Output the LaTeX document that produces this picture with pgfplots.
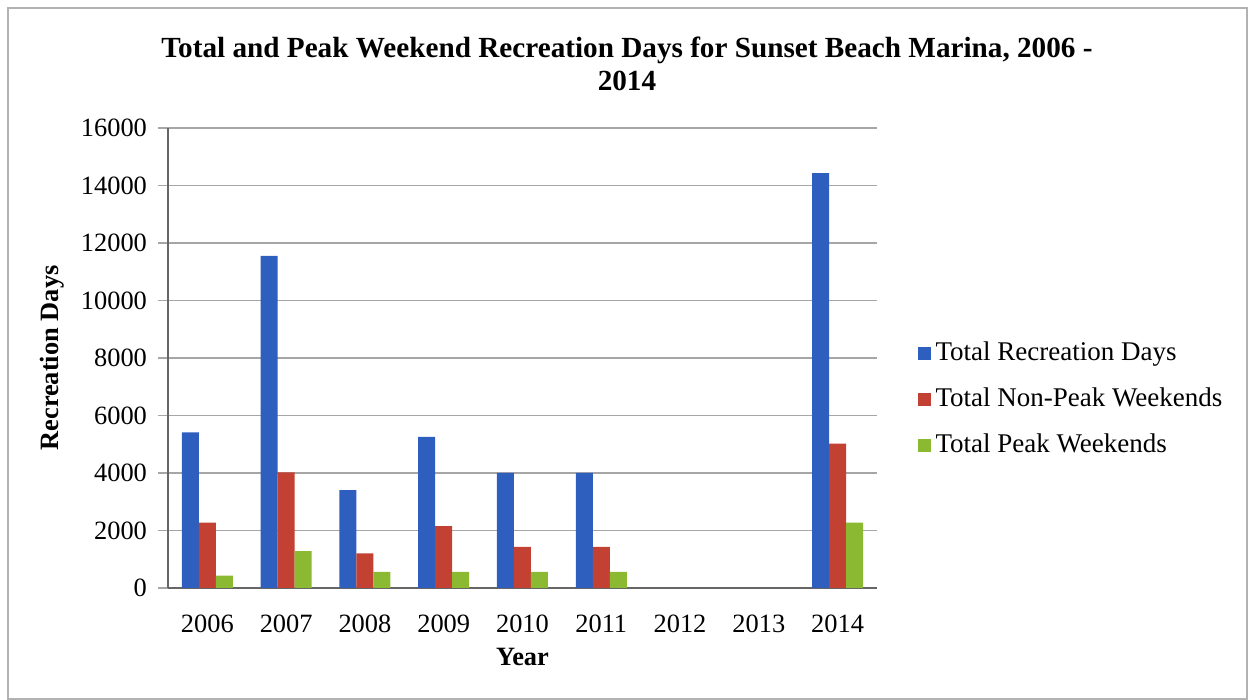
\documentclass[border=0pt]{standalone}
\usepackage{pgfplots}
\pgfplotsset{compat=1.18}
\usepackage{fontspec}
\setmainfont{Liberation Serif}

\definecolor{recBlue}{RGB}{46,94,190}
\definecolor{recRed}{RGB}{195,65,50}
\definecolor{recGreen}{RGB}{140,185,50}

\begin{document}
\begin{tikzpicture}
\useasboundingbox (0,0) rectangle (624.5pt,350pt);
\draw[gray!60, line width=1pt] (4pt,0.5pt) rectangle (623.5pt,346pt);
\node[align=center, font=\fontsize{14.6}{16.5}\selectfont\bfseries] at (313.5pt,318pt)
  {Total and Peak Weekend Recreation Days for Sunset Beach Marina, 2006 -\\2014};

\begin{axis}[
    at={(84pt,56pt)}, anchor=south west,
    scale only axis, width=354.5pt, height=230pt,
    ybar=0pt, bar width=8.5pt,
    xmin=-0.5, xmax=8.5, ymin=0, ymax=16000,
    xtick={0,...,8},
    xticklabels={2006,2007,2008,2009,2010,2011,2012,2013,2014},
    ytick={0,2000,...,16000},
    scaled y ticks=false,
    /pgf/number format/1000 sep={},
    /pgf/number format/assume math mode=true,
    ymajorgrids,
    grid style={gray!70, line width=0.7pt},
    axis x line*=bottom, axis y line*=left,
    axis line style={-, gray!80!black, line width=0.7pt},
    x tick style={draw=none},
    y tick style={gray!70, line width=0.7pt},
    tick align=outside, major tick length=5pt,
    tick label style={font=\fontsize{13.2}{15}\selectfont},
    x tick label style={yshift=-5pt},
    y tick label style={xshift=-2pt},
    xlabel={\textbf{Year}}, ylabel={\textbf{Recreation Days}},
    label style={font=\fontsize{13.2}{15}\selectfont},
    xlabel style={at={(axis description cs:0.5,-0.15)}, anchor=center},
    ylabel style={at={(axis description cs:-0.164,0.5)}, anchor=center, rotate=0},
    legend cell align=left,
    legend style={at={(1.058,0.409)}, anchor=west, draw=none, fill=none,
        inner sep=0pt, row sep=6.5pt,
        font=\fontsize{13.5}{15}\selectfont,
        nodes={text height=9.5pt, text depth=3pt, inner xsep=2pt}},
    legend image code/.code={\fill[#1] (0pt,-3.25pt) rectangle (6.5pt,3.25pt);},
]
\addplot[fill=recBlue, draw=none] coordinates {
    (0,5410) (1,11550) (2,3400) (3,5260) (4,4000) (5,4000) (8,14430)};
\addplot[fill=recRed, draw=none] coordinates {
    (0,2270) (1,4020) (2,1200) (3,2150) (4,1430) (5,1430) (8,5020)};
\addplot[fill=recGreen, draw=none] coordinates {
    (0,430) (1,1280) (2,560) (3,560) (4,560) (5,560) (8,2270)};
\legend{Total Recreation Days, Total Non-Peak Weekends, Total Peak Weekends}
\end{axis}
\end{tikzpicture}
\end{document}
